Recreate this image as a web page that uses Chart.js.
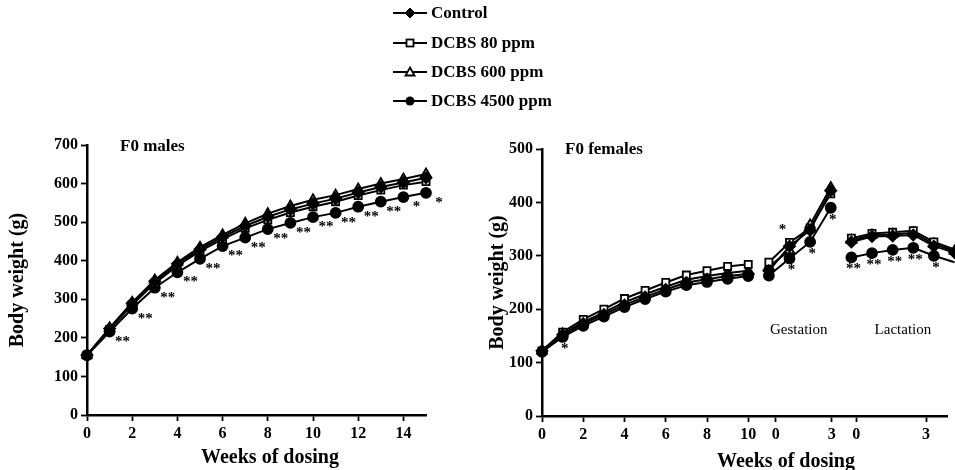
<!DOCTYPE html>
<html>
<head>
<meta charset="utf-8">
<script src="https://cdn.jsdelivr.net/npm/chart.js@4.4.1/dist/chart.umd.min.js"></script>
<style>
html,body{margin:0;padding:0;background:#fff;}
#wrap{position:relative;width:955px;height:470px;overflow:hidden;background:#fff;}
#c1{position:absolute;left:0;top:0;}
#c2{position:absolute;left:480px;top:0;}
#legend{position:absolute;left:393px;top:0;font:bold 17px "Liberation Serif",serif;color:#000;}
.row{position:absolute;left:0;height:20px;display:flex;align-items:center;white-space:nowrap;}
.row svg{margin-right:4px;}
</style>
</head>
<body>
<div id="wrap">
  <canvas id="c1" width="480" height="470"></canvas>
  <canvas id="c2" width="475" height="470"></canvas>
  <div id="legend"></div>
</div>
<script>
// ---------- DATA ----------
const seriesNames = ['Control', 'DCBS 80 ppm', 'DCBS 600 ppm', 'DCBS 4500 ppm'];

// F0 males: weeks of dosing 0..15
const maleWeeks = [0,1,2,3,4,5,6,7,8,9,10,11,12,13,14,15];
const maleControl = [155,224,290,347,392,430,462,490,514,533,548,561,577,591,603,615];
const male80      = [155,222,286,342,387,425,456,484,506,525,540,553,569,583,596,605];
const male600     = [155,226,292,350,396,435,467,497,522,542,558,570,586,600,612,625];
const male4500    = [155,216,276,330,370,405,438,460,482,498,513,524,540,553,565,576];
const maleSig4500 = ['','**','**','**','**','**','**','**','**','**','**','**','**','**','*','*'];
const maleTickLabels = ['0','2','4','6','8','10','12','14'];
const maleYTicks = [0,100,200,300,400,500,600,700];

// F0 females: pre-mating weeks 0..10, gestation (4 points), lactation (6 points)
const femaleControl = [122,152,173,190,208,223,237,250,256,262,266, 272,318,348,422, 326,336,337,339,318,306];
const female80      = [122,157,181,200,220,235,250,264,272,280,284, 288,325,352,416, 333,342,344,347,326,312];
const female600     = [122,154,176,194,213,228,242,255,262,268,272, 280,310,358,428, 329,339,340,343,322,309];
const female4500    = [120,148,169,186,204,219,233,245,251,257,262, 263,295,326,390, 297,305,311,315,300,288];
const femaleSig4500 = ['','*','','','','','','','','','', '','*','*','*', '**','**','**','**','*',''];
const femaleSig80   = ['','','','','','','','','','','', '','*','','', '','','','','',''];
const femaleSegmentEnds = [10, 14];   // line breaks after these point indexes
const femaleTickLabels = ['0','2','4','6','8','10','0','3','0','3'];
const femaleYTicks = [0,100,200,300,400,500];
const phaseLabels = ['Gestation', 'Lactation'];

// ---------- STYLE ----------
const SERIF = '"Liberation Serif", "Times New Roman", serif';
const femaleTickPos = [0,2,4,6,8,10,11.33,14.05,15.24,18.62];
const phaseLabelPos = [[12.45,160],[17.5,160]];
const markers = [
  {pointStyle:'rectRot', bg:'#000', r:5.5},
  {pointStyle:'rect', bg:'#fff', r:5},
  {pointStyle:'triangle', bg:'#fff', r:5.5},
  {pointStyle:'circle', bg:'#000', r:5}
];

function makeDatasets(seriesList, xs, breaks) {
  return seriesList.map((vals, k) => ({
    label: seriesNames[k],
    data: vals.map((v, i) => ({x: xs[i], y: v})),
    borderColor: '#000',
    borderWidth: 2,
    backgroundColor: markers[k].bg,
    pointBackgroundColor: markers[k].bg,
    pointBorderColor: '#000',
    pointBorderWidth: 1.8,
    pointStyle: markers[k].pointStyle,
    pointRadius: markers[k].r,
    tension: 0,
    clip: false,
    segment: breaks ? {
      borderColor: ctx => breaks.includes(ctx.p0DataIndex) ? 'rgba(0,0,0,0)' : '#000'
    } : undefined
  }));
}

function textPlugin(cfg) {
  return {
    id: 'texts',
    afterDatasetsDraw(chart) {
      const ctx = chart.ctx, a = chart.chartArea;
      const xs = chart.scales.x, ys = chart.scales.y;
      ctx.save();
      ctx.fillStyle = '#000';
      ctx.textAlign = 'left';
      ctx.textBaseline = 'middle';
      ctx.font = 'bold 17px ' + SERIF;
      ctx.fillText(cfg.title, a.left + cfg.titleDx, a.top + cfg.titleDy);
      ctx.textAlign = 'center';
      ctx.font = 'bold 20px ' + SERIF;
      ctx.fillText('Weeks of dosing', cfg.xTitleX, cfg.xTitleY);
      ctx.font = 'bold 15px ' + SERIF;
      ctx.textBaseline = 'alphabetic';
      cfg.sigs.forEach(s => {
        const meta = chart.getDatasetMeta(s.ds);
        s.labels.forEach((t, i) => {
          if (!t) return;
          const p = meta.data[i];
          ctx.fillText(t, p.x + s.dx, p.y + s.dy + 7);
        });
      });
      if (cfg.phases) {
        ctx.font = '15px ' + SERIF;
        ctx.textBaseline = 'middle';
        cfg.phases.forEach((t, i) => {
          ctx.fillText(t, xs.getPixelForValue(cfg.phasePos[i][0]), ys.getPixelForValue(cfg.phasePos[i][1]));
        });
      }
      ctx.restore();
    }
  };
}

function axisCommon(extra) {
  return Object.assign({
    grid: {display: true, drawOnChartArea: false, drawTicks: true, tickLength: 6, tickColor: '#000', tickWidth: 1.8},
    border: {display: true, color: '#000', width: 2.5},
    ticks: {color: '#000', font: {family: SERIF, size: 16, weight: 'bold'}, padding: 3, autoSkip: false, maxRotation: 0}
  }, extra);
}

function yAxis(maxV, tickVals, width) {
  return axisCommon({
    type: 'linear', min: 0, max: maxV,
    afterBuildTicks: s => { s.ticks = tickVals.map(v => ({value: v})); },
    ticks: {color: '#000', font: {family: SERIF, size: 16, weight: 'bold'}, padding: 3, autoSkip: false},
    title: {display: true, text: 'Body weight (g)', color: '#000', font: {family: SERIF, size: 20, weight: 'bold'}, padding: {top: 6, bottom: 0}},
    afterFit: s => { s.width = width; }
  });
}

const baseOpts = {
  responsive: false,
  animation: false,
  events: [],
  plugins: {legend: {display: false}, tooltip: {enabled: false}, title: {display: false}}
};

// ---------- LEFT: F0 males ----------
new Chart(document.getElementById('c1'), {
  type: 'line',
  data: {datasets: makeDatasets([maleControl, male80, male600, male4500], maleWeeks, null)},
  options: Object.assign({}, baseOpts, {
    layout: {padding: {left: 0, right: 54, top: 145, bottom: 0}},
    scales: {
      x: axisCommon({
        type: 'linear', min: 0, max: 15,
        afterBuildTicks: s => { s.ticks = maleTickLabels.map(v => ({value: Number(v)})); },
        ticks: {color: '#000', font: {family: SERIF, size: 16, weight: 'bold'}, padding: 3, autoSkip: false, maxRotation: 0,
                callback: (v, i) => maleTickLabels[i]},
        afterFit: s => { s.height = 55; }
      }),
      y: yAxis(700, maleYTicks, 87)
    }
  }),
  plugins: [textPlugin({
    title: 'F0 males', titleDx: 33, titleDy: 2,
    xTitleX: 270, xTitleY: 458,
    sigs: [{ds: 3, labels: maleSig4500, dx: 13, dy: 7}]
  })]
});

// ---------- RIGHT: F0 females ----------
const femaleX = femaleControl.map((v, i) => i);
new Chart(document.getElementById('c2'), {
  type: 'line',
  data: {datasets: makeDatasets([femaleControl, female80, female600, female4500], femaleX, femaleSegmentEnds)},
  options: Object.assign({}, baseOpts, {
    layout: {padding: {left: 0, right: 0, top: 149, bottom: 0}},
    scales: {
      x: axisCommon({
        type: 'linear', min: 0, max: 19.67,
        afterBuildTicks: s => { s.ticks = femaleTickPos.map(v => ({value: v})); },
        ticks: {color: '#000', font: {family: SERIF, size: 16, weight: 'bold'}, padding: 3, autoSkip: false, maxRotation: 0,
                callback: (v, i) => femaleTickLabels[i]},
        afterFit: s => { s.height = 54; }
      }),
      y: yAxis(500, femaleYTicks, 62)
    }
  }),
  plugins: [textPlugin({
    title: 'F0 females', titleDx: 23, titleDy: 1,
    xTitleX: 306, xTitleY: 462,
    sigs: [{ds: 3, labels: femaleSig4500, dx: 2, dy: 9}, {ds: 1, labels: femaleSig80, dx: -7, dy: -15}],
    phases: phaseLabels, phasePos: phaseLabelPos
  })]
});

// ---------- LEGEND ----------
const legendMarkerSvg = [
  '<polygon points="17,5 22,10 17,15 12,10" fill="#000" stroke="#000" stroke-width="1"/>',
  '<rect x="13.5" y="6.5" width="7" height="7" fill="#fff" stroke="#000" stroke-width="1.8"/>',
  '<polygon points="17,5.5 21.5,13.5 12.5,13.5" fill="#fff" stroke="#000" stroke-width="1.8"/>',
  '<circle cx="17" cy="10" r="4.5" fill="#000"/>'
];
const legendCenters = [13, 43, 72, 101];
const legend = document.getElementById('legend');
seriesNames.forEach((name, k) => {
  const row = document.createElement('div');
  row.className = 'row';
  row.style.top = (legendCenters[k] - 10) + 'px';
  row.innerHTML = '<svg width="34" height="20"><line x1="0" y1="10" x2="34" y2="10" stroke="#000" stroke-width="2.2"/>' +
    legendMarkerSvg[k] + '</svg><span>' + name + '</span>';
  legend.appendChild(row);
});
</script>
</body>
</html>
